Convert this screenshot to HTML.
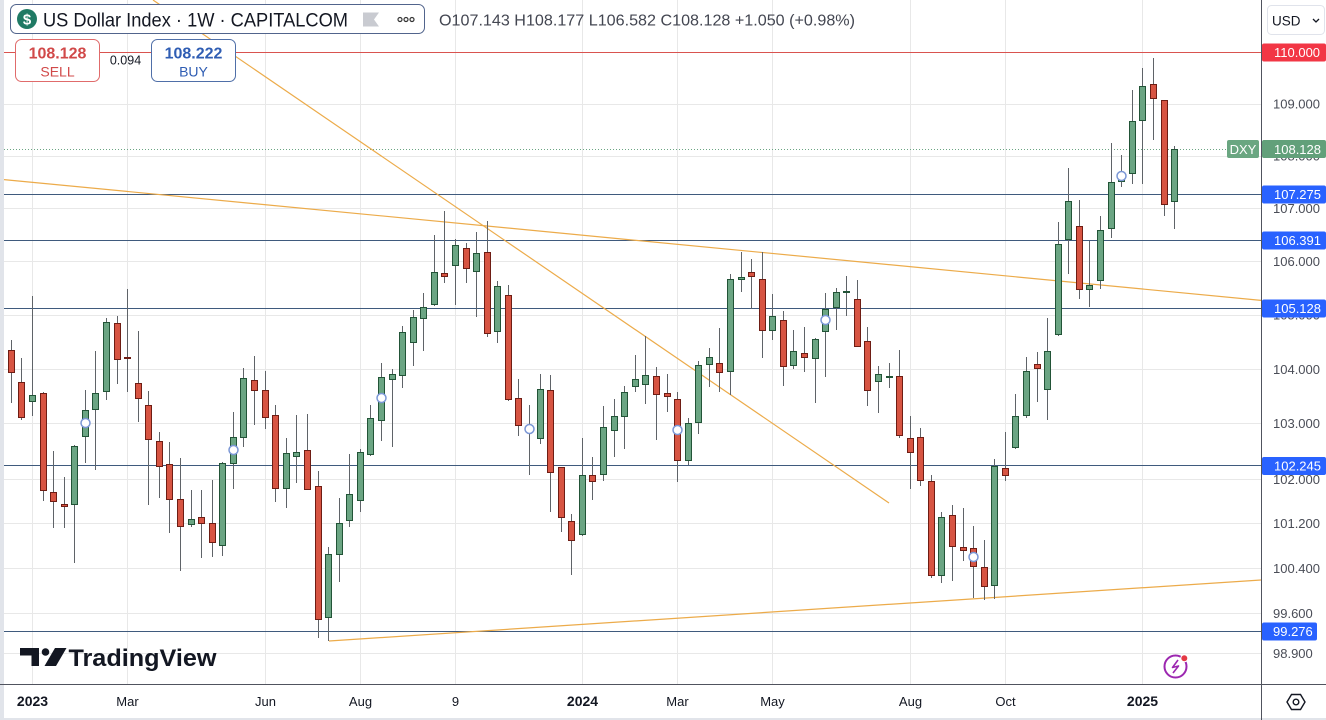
<!DOCTYPE html>
<html><head><meta charset="utf-8"><style>
html,body{margin:0;padding:0;background:#fff;}
svg{display:block;font-family:"Liberation Sans",Arial,sans-serif;}
</style></head><body>
<svg width="1326" height="720" viewBox="0 0 1326 720" xmlns="http://www.w3.org/2000/svg">
<rect x="0" y="0" width="1326" height="720" fill="#fff"/>
<rect x="0" y="0" width="4" height="720" fill="#e1e4ea"/>
<rect x="0" y="718" width="1326" height="2" fill="#e1e4ea"/>
<!-- grid -->
<g stroke="#e8e8e8" stroke-width="1">
<path d="M4 104.5H1261M4 156.5H1261M4 208.5H1261M4 261.5H1261M4 315.5H1261M4 369.5H1261M4 423.5H1261M4 479.5H1261M4 523.5H1261M4 568.5H1261M4 613.5H1261M4 653.5H1261"/>
<path d="M32.5 0V684M127.5 0V684M265.5 0V684M360.5 0V684M455.5 0V684M582.5 0V684M677.5 0V684M772.5 0V684M910.5 0V684M1005.5 0V684M1142.5 0V684"/>
</g>
<!-- level lines -->
<path d="M4 52.5H1261" stroke="#d9534f" stroke-width="1"/>
<path d="M4 194.5H1261M4 240.5H1261M4 308.5H1261M4 465.5H1261M4 631.5H1261" stroke="#3f5a7d" stroke-width="1"/>
<path d="M4 149.5H1227" stroke="#6ba583" stroke-width="1" stroke-dasharray="1 2"/>
<!-- trend lines -->
<g stroke="#ecab4a" stroke-width="1.2" fill="none">
<line x1="4" y1="179.6" x2="1261" y2="300.4"/>
<line x1="153" y1="0" x2="889" y2="503"/>
<line x1="329" y1="641" x2="1261" y2="580"/>
</g>
<!-- wicks -->
<path stroke="#5f6368" stroke-width="1" fill="none" d="M11.5 340V403M21.5 358V420M32.5 296V416M43.5 392V501M53.5 451V528M64.5 477V528M74.5 445V563M85.5 390V463M95.5 351V470M106.5 318V400M117.5 316V384M127.5 289V392M138.5 331V422M148.5 391V505M159.5 432V498M169.5 442V533M180.5 458V571M191.5 490V527M201.5 490V558M212.5 480V557M222.5 462V556M233.5 412V489M243.5 368V447M254.5 356V425M265.5 371V429M275.5 405V502M286.5 438V508M296.5 415V483M307.5 414V489M318.5 471V638M328.5 547V641M339.5 498V582M349.5 454V527M360.5 449V512M370.5 405V456M381.5 363V441M392.5 369V447M402.5 326V388M413.5 310V366M423.5 293V351M434.5 235V306M444.5 211V283M455.5 239V305M466.5 243V283M476.5 232V317M487.5 221V337M497.5 281V343M508.5 285V401M518.5 379V436M529.5 405V475M540.5 374V444M550.5 375V512M561.5 467V532M571.5 514V575M582.5 438V536M592.5 457V500M603.5 406V481M614.5 399V457M624.5 386V449M635.5 355V392M645.5 336V404M656.5 367V440M667.5 374V412M677.5 392V482M688.5 418V465M698.5 361V434M709.5 348V387M719.5 328V392M730.5 274V395M741.5 252V292M751.5 259V309M762.5 252V358M772.5 294V340M783.5 311V386M793.5 330V369M804.5 327V372M815.5 338V403M825.5 293V377M836.5 288V330M846.5 276V316M857.5 280V347M867.5 327V406M878.5 366V413M889.5 363V388M899.5 350V438M910.5 416V489M920.5 428V486M931.5 475V578M941.5 512V583M952.5 505V581M963.5 508V561M973.5 526V598M984.5 540V600M994.5 459V599M1005.5 432V481M1015.5 394V449M1026.5 357V418M1037.5 352V402M1047.5 318V420M1058.5 222V336M1068.5 168V274M1079.5 200V299M1089.5 241V307M1100.5 216V289M1111.5 143V238M1121.5 155V187M1132.5 90V184M1142.5 68V184M1153.5 58V140M1164.5 100V216M1174.5 146V229"/>
<!-- up bodies -->
<g fill="#6ba583" stroke="#225437" stroke-width="1">
<rect x="29.5" y="395.5" width="6" height="6"/>
<rect x="71.5" y="446.5" width="6" height="58"/>
<rect x="82.5" y="410.5" width="6" height="26"/>
<rect x="92.5" y="393.5" width="6" height="16"/>
<rect x="103.5" y="322.5" width="6" height="69"/>
<rect x="188.5" y="519.5" width="6" height="5"/>
<rect x="219.5" y="463.5" width="6" height="82"/>
<rect x="230.5" y="437.5" width="6" height="26"/>
<rect x="240.5" y="378.5" width="6" height="59"/>
<rect x="283.5" y="453.5" width="6" height="35"/>
<rect x="293.5" y="452.5" width="6" height="4"/>
<rect x="325.5" y="554.5" width="6" height="63"/>
<rect x="336.5" y="523.5" width="6" height="31"/>
<rect x="346.5" y="494.5" width="6" height="26"/>
<rect x="357.5" y="452.5" width="6" height="48"/>
<rect x="367.5" y="418.5" width="6" height="36"/>
<rect x="378.5" y="377.5" width="6" height="43"/>
<rect x="389.5" y="374.5" width="6" height="5"/>
<rect x="399.5" y="332.5" width="6" height="43"/>
<rect x="410.5" y="317.5" width="6" height="25"/>
<rect x="420.5" y="307.5" width="6" height="11"/>
<rect x="431.5" y="272.5" width="6" height="32"/>
<rect x="452.5" y="245.5" width="6" height="20"/>
<rect x="473.5" y="253.5" width="6" height="18"/>
<rect x="494.5" y="286.5" width="6" height="45"/>
<rect x="537.5" y="389.5" width="6" height="49"/>
<rect x="579.5" y="475.5" width="6" height="59"/>
<rect x="600.5" y="427.5" width="6" height="47"/>
<rect x="611.5" y="416.5" width="6" height="14"/>
<rect x="621.5" y="392.5" width="6" height="24"/>
<rect x="632.5" y="379.5" width="6" height="7"/>
<rect x="642.5" y="375.5" width="6" height="9"/>
<rect x="685.5" y="423.5" width="6" height="37"/>
<rect x="695.5" y="365.5" width="6" height="57"/>
<rect x="706.5" y="357.5" width="6" height="7"/>
<rect x="727.5" y="279.5" width="6" height="92"/>
<rect x="738.5" y="277.5" width="6" height="2"/>
<rect x="769.5" y="316.5" width="6" height="14"/>
<rect x="790.5" y="351.5" width="6" height="14"/>
<rect x="812.5" y="339.5" width="6" height="19"/>
<rect x="822.5" y="309.5" width="6" height="22"/>
<rect x="833.5" y="292.5" width="6" height="15"/>
<rect x="843.5" y="291.5" width="6" height="1"/>
<rect x="875.5" y="374.5" width="6" height="7"/>
<rect x="886.5" y="376.5" width="6" height="1"/>
<rect x="938.5" y="517.5" width="6" height="58"/>
<rect x="991.5" y="466.5" width="6" height="119"/>
<rect x="1012.5" y="416.5" width="6" height="31"/>
<rect x="1023.5" y="371.5" width="6" height="44"/>
<rect x="1044.5" y="351.5" width="6" height="38"/>
<rect x="1055.5" y="244.5" width="6" height="90"/>
<rect x="1065.5" y="201.5" width="6" height="38"/>
<rect x="1086.5" y="285.5" width="6" height="4"/>
<rect x="1097.5" y="230.5" width="6" height="50"/>
<rect x="1108.5" y="182.5" width="6" height="46"/>
<rect x="1118.5" y="173.5" width="6" height="8"/>
<rect x="1129.5" y="121.5" width="6" height="52"/>
<rect x="1139.5" y="86.5" width="6" height="34"/>
<rect x="1171.5" y="149.5" width="6" height="52"/>
</g>
<!-- down bodies -->
<g fill="#d75442" stroke="#6e1d14" stroke-width="1">
<rect x="8.5" y="350.5" width="6" height="22"/>
<rect x="18.5" y="382.5" width="6" height="35"/>
<rect x="40.5" y="393.5" width="6" height="97"/>
<rect x="50.5" y="492.5" width="6" height="9"/>
<rect x="61.5" y="504.5" width="6" height="2"/>
<rect x="114.5" y="323.5" width="6" height="36"/>
<rect x="124.5" y="357.5" width="6" height="1"/>
<rect x="135.5" y="383.5" width="6" height="15"/>
<rect x="145.5" y="405.5" width="6" height="34"/>
<rect x="156.5" y="441.5" width="6" height="25"/>
<rect x="166.5" y="464.5" width="6" height="35"/>
<rect x="177.5" y="499.5" width="6" height="27"/>
<rect x="198.5" y="517.5" width="6" height="6"/>
<rect x="209.5" y="523.5" width="6" height="19"/>
<rect x="251.5" y="380.5" width="6" height="10"/>
<rect x="262.5" y="390.5" width="6" height="27"/>
<rect x="272.5" y="415.5" width="6" height="73"/>
<rect x="304.5" y="450.5" width="6" height="39"/>
<rect x="315.5" y="486.5" width="6" height="133"/>
<rect x="441.5" y="273.5" width="6" height="3"/>
<rect x="463.5" y="248.5" width="6" height="20"/>
<rect x="484.5" y="252.5" width="6" height="81"/>
<rect x="505.5" y="295.5" width="6" height="104"/>
<rect x="515.5" y="398.5" width="6" height="27"/>
<rect x="526.5" y="425.5" width="6" height="6"/>
<rect x="547.5" y="390.5" width="6" height="82"/>
<rect x="558.5" y="467.5" width="6" height="50"/>
<rect x="568.5" y="521.5" width="6" height="19"/>
<rect x="589.5" y="475.5" width="6" height="6"/>
<rect x="653.5" y="376.5" width="6" height="18"/>
<rect x="664.5" y="393.5" width="6" height="3"/>
<rect x="674.5" y="399.5" width="6" height="61"/>
<rect x="716.5" y="363.5" width="6" height="9"/>
<rect x="748.5" y="272.5" width="6" height="4"/>
<rect x="759.5" y="279.5" width="6" height="51"/>
<rect x="780.5" y="320.5" width="6" height="46"/>
<rect x="801.5" y="353.5" width="6" height="4"/>
<rect x="854.5" y="299.5" width="6" height="47"/>
<rect x="864.5" y="341.5" width="6" height="49"/>
<rect x="896.5" y="376.5" width="6" height="59"/>
<rect x="907.5" y="438.5" width="6" height="14"/>
<rect x="917.5" y="437.5" width="6" height="43"/>
<rect x="928.5" y="481.5" width="6" height="94"/>
<rect x="949.5" y="515.5" width="6" height="31"/>
<rect x="960.5" y="547.5" width="6" height="3"/>
<rect x="970.5" y="548.5" width="6" height="18"/>
<rect x="981.5" y="567.5" width="6" height="19"/>
<rect x="1002.5" y="468.5" width="6" height="7"/>
<rect x="1034.5" y="364.5" width="6" height="4"/>
<rect x="1076.5" y="226.5" width="6" height="63"/>
<rect x="1150.5" y="84.5" width="6" height="14"/>
<rect x="1161.5" y="100.5" width="6" height="104"/>
</g>
<!-- event markers -->
<g fill="#fff" stroke="#7b97d6" stroke-width="1.5">
<circle cx="85.5" cy="423" r="4.5"/>
<circle cx="233.5" cy="450" r="4.5"/>
<circle cx="381.5" cy="398" r="4.5"/>
<circle cx="529.5" cy="429" r="4.5"/>
<circle cx="677.5" cy="430" r="4.5"/>
<circle cx="825.5" cy="320" r="4.5"/>
<circle cx="973.5" cy="557" r="4.5"/>
<circle cx="1121.5" cy="176" r="4.5"/>
</g>
<!-- header -->
<rect x="10.5" y="4.5" width="414" height="29" rx="6" fill="#fff" stroke="#51648c" stroke-width="1"/>
<circle cx="27" cy="19" r="10" fill="#1f7a64"/>
<text x="27" y="24.5" fill="#fff" font-size="15" font-weight="bold" text-anchor="middle">$</text>
<text x="43" y="26.5" fill="#131722" font-size="19" textLength="305" lengthAdjust="spacingAndGlyphs">US Dollar Index · 1W · CAPITALCOM</text>
<polygon points="363,12.5 379,12.5 374,19.5 379,26.5 363,26.5" fill="#c9cbd1"/>
<g fill="none" stroke="#333" stroke-width="1.2"><circle cx="400" cy="19.5" r="2"/><circle cx="406" cy="19.5" r="2"/><circle cx="412" cy="19.5" r="2"/></g>
<text x="439" y="25.5" fill="#434651" font-size="16" textLength="416" lengthAdjust="spacingAndGlyphs">O107.143  H108.177  L106.582  C108.128  +1.050 (+0.98%)</text>
<!-- sell/buy -->
<rect x="15.5" y="39.5" width="84" height="42" rx="6" fill="#fff" stroke="#e06b6b" stroke-width="1"/>
<text x="57.5" y="58.5" fill="#d14949" font-size="16" font-weight="bold" text-anchor="middle">108.128</text>
<text x="57.5" y="76.5" fill="#d14949" font-size="14" text-anchor="middle">SELL</text>
<text x="125.5" y="64.3" fill="#131722" font-size="12.5" text-anchor="middle">0.094</text>
<rect x="151.5" y="39.5" width="84" height="42" rx="6" fill="#fff" stroke="#4f6fa8" stroke-width="1"/>
<text x="193.5" y="58.5" fill="#2f5db3" font-size="16" font-weight="bold" text-anchor="middle">108.222</text>
<text x="193.5" y="76.5" fill="#2f5db3" font-size="14" text-anchor="middle">BUY</text>
<!-- USD button -->
<rect x="1267.5" y="5.5" width="57" height="29" rx="4" fill="#fff" stroke="#e0e3eb" stroke-width="1"/>
<text x="1272" y="25.5" fill="#131722" font-size="13.5">USD</text>
<polyline points="1313,19 1316,22 1319,19" fill="none" stroke="#131722" stroke-width="1.3"/>
<!-- axes -->
<path d="M1261.5 0V720M0 684.5H1326" stroke="#50535e" stroke-width="1"/>
<!-- price ticks -->
<g fill="#4a4d57" font-size="13">
<text x="1273" y="108.5">109.000</text>
<text x="1273" y="160.5">108.000</text>
<text x="1273" y="213">107.000</text>
<text x="1273" y="266">106.000</text>
<text x="1273" y="319.5">105.000</text>
<text x="1273" y="374">104.000</text>
<text x="1273" y="428">103.000</text>
<text x="1273" y="484">102.000</text>
<text x="1273" y="528">101.200</text>
<text x="1273" y="573">100.400</text>
<text x="1273" y="618">99.600</text>
<text x="1273" y="658">98.900</text>
</g>
<!-- price labels -->
<rect x="1262" y="43.5" width="64" height="18" rx="2" fill="#f23645"/>
<rect x="1227" y="140" width="32" height="18" rx="2" fill="#6aa681"/>
<rect x="1262" y="140" width="64" height="18" rx="2" fill="#62a07a"/>
<rect x="1262" y="185.5" width="64" height="18" rx="2" fill="#2962ff"/>
<rect x="1262" y="231.5" width="64" height="18" rx="2" fill="#2962ff"/>
<rect x="1262" y="299.5" width="64" height="18" rx="2" fill="#2962ff"/>
<rect x="1262" y="457" width="64" height="18" rx="2" fill="#2962ff"/>
<rect x="1262" y="622.5" width="55" height="18" rx="2" fill="#2962ff"/>
<g fill="#fff" font-size="13">
<text x="1274" y="57">110.000</text>
<text x="1243" y="154" text-anchor="middle">DXY</text>
<text x="1274" y="154">108.128</text>
<text x="1274" y="199">107.275</text>
<text x="1274" y="245">106.391</text>
<text x="1274" y="313">105.128</text>
<text x="1274" y="470.5">102.245</text>
<text x="1273" y="636">99.276</text>
</g>
<!-- time labels -->
<g fill="#131722" font-size="13" text-anchor="middle">
<text x="32.5" y="706" font-weight="bold" font-size="14">2023</text>
<text x="127.5" y="706">Mar</text>
<text x="265.5" y="706">Jun</text>
<text x="360.5" y="706">Aug</text>
<text x="455.5" y="706">9</text>
<text x="582.5" y="706" font-weight="bold" font-size="14">2024</text>
<text x="677.5" y="706">Mar</text>
<text x="772.5" y="706">May</text>
<text x="910.5" y="706">Aug</text>
<text x="1005.5" y="706">Oct</text>
<text x="1142.5" y="706" font-weight="bold" font-size="14">2025</text>
</g>
<!-- TradingView logo -->
<g fill="#131722">
<rect x="20" y="648" width="19" height="7.5"/>
<rect x="31.5" y="648" width="7.5" height="18"/>
<circle cx="45.5" cy="652" r="3.8"/>
<polygon points="55,648 66.5,648 56,666 44.5,666"/>
<text x="68.5" y="666" font-size="24.5" font-weight="bold" textLength="148" lengthAdjust="spacingAndGlyphs">TradingView</text>
</g>
<!-- lightning icon -->
<circle cx="1175.5" cy="666.5" r="11" fill="#fff" stroke="#9c27b0" stroke-width="2"/>
<polyline points="1178,660 1172.5,667.5 1178.5,666 1173,673" fill="none" stroke="#9c27b0" stroke-width="1.6" stroke-linejoin="round"/>
<circle cx="1184.3" cy="658.3" r="3.5" fill="#e53945" stroke="#fff" stroke-width="1"/>
<!-- settings icon -->
<polygon points="1287,702 1291.5,694.5 1300.5,694.5 1305,702 1300.5,709.5 1291.5,709.5" fill="none" stroke="#131722" stroke-width="1.4"/>
<circle cx="1296" cy="702" r="2.8" fill="none" stroke="#131722" stroke-width="1.4"/>
</svg>
</body></html>
